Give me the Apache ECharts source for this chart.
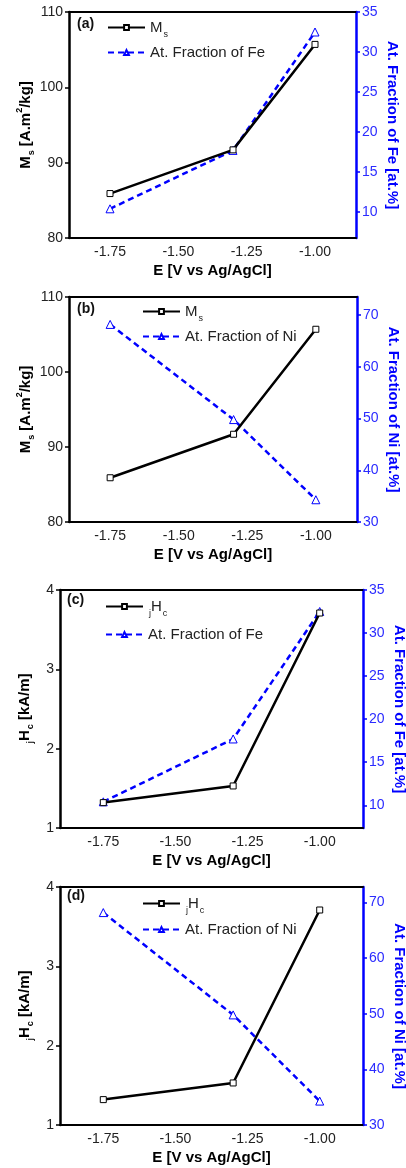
<!DOCTYPE html>
<html>
<head>
<meta charset="utf-8">
<script src="https://cdn.jsdelivr.net/npm/echarts@6/dist/echarts.min.js"></script>
<style>
  html, body { margin: 0; padding: 0; background: #fff; }
  #chart { width: 406px; height: 1168px; }
</style>
</head>
<body>
<div id="chart"></div>
<script>
// Deposition potential, V vs Ag/AgCl
const potential = [-1.75, -1.30, -1.00];
// Saturation magnetisation M_s, A·m²/kg
const msValues = [85.9, 91.7, 105.7];
// Coercivity jHc, kA/m
const hcValues = [1.32, 1.53, 3.71];
// Film composition, at.%
const feFraction = [10.4, 17.7, 32.5];
const niFraction = [68.2, 49.8, 34.3];

// Tick positions
const potentialTicks = [-1.75, -1.50, -1.25, -1.00];
const msTicks = [80, 90, 100, 110];
const hcTicks = [1, 2, 3, 4];
const feTicks = [10, 15, 20, 25, 30, 35];
const niTicks = [30, 40, 50, 60, 70];

const FONT = '"Liberation Sans", Arial, Helvetica, sans-serif';
const BLUE = '#0000ff';
const BLACK = '#000000';

const msTitle = '{b|M}{sub|s}{b| [A.m}{sup|2}{b|/kg]}';
const hcTitle = '{sub|j}{b|H}{sub|c}{b| [kA/m]}';

const panels = [
  {
    id: 'a', tag: '(a)',
    grid: { left: 69, top: 12, width: 287, height: 226 },
    left: { values: msValues, ticks: msTicks, min: 80, max: 110, title: msTitle, legend: 'M{sub|s}', gap: 36 },
    right: { values: feFraction, ticks: feTicks, min: 6.75, max: 35,
             title: 'At. Fraction of Fe [at.%]', legend: 'At. Fraction of Fe' },
    legendPos: { left: 107, top: 16 }, legendGap: 6, tagPos: { left: 77, top: 17 }
  },
  {
    id: 'b', tag: '(b)',
    grid: { left: 69, top: 297, width: 288, height: 225 },
    left: { values: msValues, ticks: msTicks, min: 80, max: 110, title: msTitle, legend: 'M{sub|s}', gap: 36 },
    right: { values: niFraction, ticks: niTicks, min: 30, max: 73.5,
             title: 'At. Fraction of Ni [at.%]', legend: 'At. Fraction of Ni' },
    legendPos: { left: 142, top: 300 }, legendGap: 6, tagPos: { left: 77, top: 302 }
  },
  {
    id: 'c', tag: '(c)',
    grid: { left: 60, top: 590, width: 303, height: 238 },
    left: { values: hcValues, ticks: hcTicks, min: 1, max: 4, title: hcTitle, legend: '{sub|j}H{sub|c}', gap: 28 },
    right: { values: feFraction, ticks: feTicks, min: 7.36, max: 35,
             title: 'At. Fraction of Fe [at.%]', legend: 'At. Fraction of Fe' },
    legendPos: { left: 105, top: 595 }, legendGap: 9, tagPos: { left: 67, top: 593 }
  },
  {
    id: 'd', tag: '(d)',
    grid: { left: 60, top: 887, width: 303, height: 238 },
    left: { values: hcValues, ticks: hcTicks, min: 1, max: 4, title: hcTitle, legend: '{sub|j}H{sub|c}', gap: 28 },
    right: { values: niFraction, ticks: niTicks, min: 30, max: 72.8,
             title: 'At. Fraction of Ni [at.%]', legend: 'At. Fraction of Ni' },
    legendPos: { left: 142, top: 892 }, legendGap: 7, tagPos: { left: 67, top: 889 }
  }
];

const titleRich = {
  b: { fontFamily: FONT, fontSize: 15, fontWeight: 'bold', color: BLACK },
  sub: { fontFamily: FONT, fontSize: 9, fontWeight: 'bold', color: BLACK, lineHeight: 9, padding: [13, 0, 0, 1] },
  sup: { fontFamily: FONT, fontSize: 9, fontWeight: 'bold', color: BLACK, lineHeight: 9, padding: [0, 0, 11, 0] }
};
const legendRich = {
  sub: { fontFamily: FONT, fontSize: 9, color: '#222', lineHeight: 9, padding: [14, 0, 0, 1] }
};

const legendText = {};
const grids = [], xAxes = [], yAxes = [], series = [], legends = [], titles = [];

panels.forEach((p, i) => {
  grids.push(Object.assign({ containLabel: false, outerBoundsMode: 'none' }, p.grid));

  // bottom potential axis
  xAxes.push({
    gridIndex: i, type: 'value', position: 'bottom', min: -1.9, max: -0.85,
    axisLine: { show: true, onZero: false, lineStyle: { color: BLACK, width: 2 } },
    axisTick: { show: false },
    axisLabel: {
      customValues: potentialTicks, formatter: v => Number(v).toFixed(2),
      color: '#222', fontFamily: FONT, fontSize: 14, margin: 7
    },
    splitLine: { show: false },
    name: 'E [V vs Ag/AgCl]', nameLocation: 'middle', nameGap: 25,
    nameTextStyle: { fontFamily: FONT, fontSize: 15, fontWeight: 'bold', color: BLACK }
  });
  // top frame line
  xAxes.push({
    gridIndex: i, type: 'value', position: 'top', min: -1.9, max: -0.85,
    axisLine: { show: true, onZero: false, lineStyle: { color: BLACK, width: 2 } },
    axisTick: { show: false }, axisLabel: { show: false }, splitLine: { show: false }
  });

  yAxes.push({
    gridIndex: i, type: 'value', position: 'left', min: p.left.min, max: p.left.max,
    axisLine: { show: true, onZero: false, lineStyle: { color: BLACK, width: 2.5 } },
    axisTick: { show: true, length: 4, customValues: p.left.ticks, lineStyle: { color: BLACK, width: 1.5 } },
    axisLabel: { customValues: p.left.ticks, color: '#222', fontFamily: FONT, fontSize: 14, margin: 6 },
    splitLine: { show: false },
    name: p.left.title, nameLocation: 'middle', nameGap: p.left.gap, nameMoveOverlap: false,
    nameTextStyle: { fontFamily: FONT, fontSize: 15, fontWeight: 'bold', color: BLACK, rich: titleRich }
  });
  yAxes.push({
    gridIndex: i, type: 'value', position: 'right', min: p.right.min, max: p.right.max,
    axisLine: { show: true, onZero: false, lineStyle: { color: BLUE, width: 2.5 } },
    axisTick: { show: true, length: 4, customValues: p.right.ticks, lineStyle: { color: BLUE, width: 1.5 } },
    axisLabel: { customValues: p.right.ticks, color: '#2b2bff', fontFamily: FONT, fontSize: 14, margin: 6 },
    splitLine: { show: false },
    name: p.right.title, nameLocation: 'middle', nameGap: 29, nameRotate: -90, nameMoveOverlap: false,
    nameTextStyle: { fontFamily: FONT, fontSize: 15, fontWeight: 'bold', color: BLUE }
  });

  const leftId = p.id + '-left', rightId = p.id + '-right';
  legendText[leftId] = p.left.legend;
  legendText[rightId] = p.right.legend;

  series.push({
    type: 'line', name: leftId, xAxisIndex: 2 * i, yAxisIndex: 2 * i,
    data: potential.map((x, k) => [x, p.left.values[k]]),
    symbol: 'rect', symbolSize: 6, z: 3,
    lineStyle: { color: BLACK, width: 2.5 },
    itemStyle: { color: '#fff', borderColor: BLACK, borderWidth: 1 },
    animation: false
  });
  series.push({
    type: 'line', name: rightId, xAxisIndex: 2 * i, yAxisIndex: 2 * i + 1,
    data: potential.map((x, k) => [x, p.right.values[k]]),
    symbol: 'triangle', symbolSize: 8, z: 2,
    lineStyle: { color: BLUE, width: 2.5, type: [6, 4] },
    itemStyle: { color: '#fff', borderColor: BLUE, borderWidth: 1 },
    animation: false
  });

  legends.push({
    data: [leftId, rightId], orient: 'vertical',
    left: p.legendPos.left, top: p.legendPos.top, padding: 0,
    itemWidth: 37, itemHeight: 6, itemGap: p.legendGap, selectedMode: false,
    formatter: n => legendText[n],
    textStyle: { fontFamily: FONT, fontSize: 15, color: '#222', rich: legendRich }
  });

  titles.push({
    text: p.tag, left: p.tagPos.left, top: p.tagPos.top, padding: 0,
    textStyle: { fontFamily: FONT, fontSize: 14, fontWeight: 'bold', color: '#111' }
  });
});

const chart = echarts.init(document.getElementById('chart'), null, { renderer: 'canvas' });
chart.setOption({
  animation: false,
  backgroundColor: '#fff',
  title: titles,
  grid: grids,
  xAxis: xAxes,
  yAxis: yAxes,
  legend: legends,
  series: series
});
</script>
</body>
</html>
